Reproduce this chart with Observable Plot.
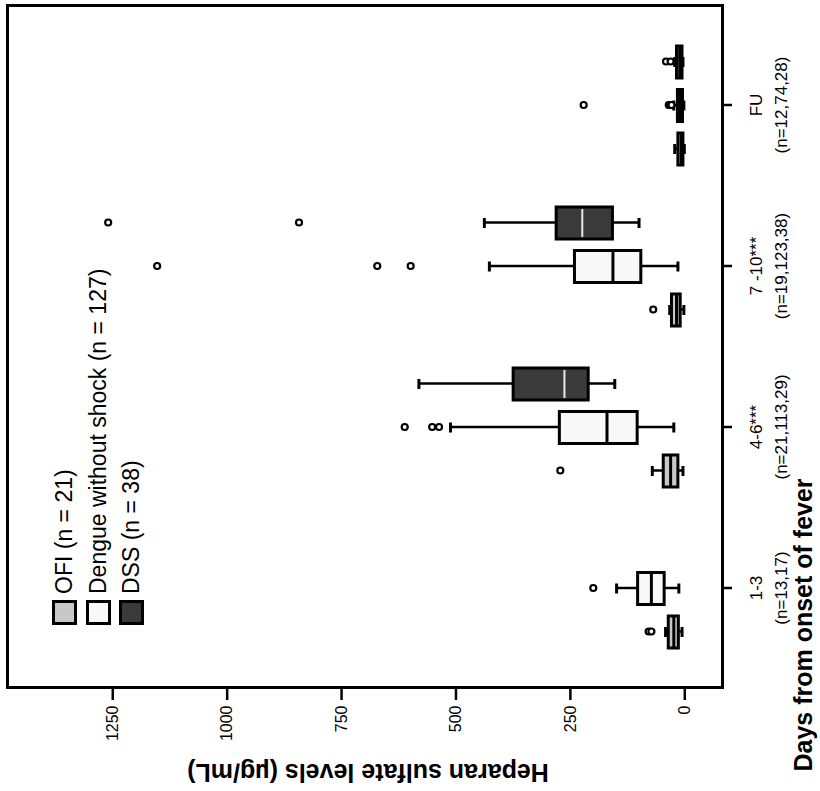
<!DOCTYPE html>
<html>
<head>
<meta charset="utf-8">
<script src="https://cdn.jsdelivr.net/npm/d3@7"></script>
<script src="https://cdn.jsdelivr.net/npm/@observablehq/plot@0.6"></script>
<style>
  html, body { margin: 0; padding: 0; background: #fff; }
  #wrap { position: relative; width: 820px; height: 791px; overflow: hidden; background: #fff; }
  #fig { position: absolute; left: 0; top: 0; width: 791px; height: 820px;
         transform-origin: 0 0; transform: translate(0px, 791px) rotate(-90deg);
         font-family: "Liberation Sans", Arial, sans-serif; color: #000; }
  #fig svg { position: absolute; left: 0; top: 0; }
  #legend { position: absolute; left: 166px; top: 48px; }
  .row { display: flex; align-items: center; height: 33.5px; }
  .sw { width: 25px; height: 25px; box-sizing: border-box; border: 3px solid #000; }
  .lab { margin-left: 6px; font-size: 23px; white-space: nowrap; }
  .title { position: absolute; font-weight: bold; white-space: nowrap; transform: translate(-50%, -50%); }
</style>
</head>
<body>
<div id="wrap"><div id="fig"></div></div>
<script>
// ---- data ----
const days = ["1-3", "4-6", "7-10", "FU"];
const dayTickLabels = ["1-3\n(n=13,17)", "4-6***\n(n=21,113,29)", "7 -10***\n(n=19,123,38)", "FU\n(n=12,74,28)"];
const groups = ["OFI", "Dengue", "DSS"];
const groupLabels = ["OFI (n = 21)", "Dengue without shock (n = 127)", "DSS (n = 38)"];
const yTicks = [0, 250, 500, 750, 1000, 1250];

const boxDay   = ["1-3", "1-3", "4-6", "4-6", "4-6", "7-10", "7-10", "7-10", "FU", "FU", "FU"];
const boxGroup = ["OFI", "Dengue", "OFI", "Dengue", "DSS", "OFI", "Dengue", "DSS", "OFI", "Dengue", "DSS"];
const whiskerLow  = [6, 13, 4, 24, 153, 2, 15, 100, 1, 2, 4];
const quartile1   = [13, 44, 14, 103, 210, 9, 95, 157, 3, 4, 5];
const medianValue = [24, 73, 31, 170, 263, 18, 157, 224, 8, 10, 10];
const quartile3   = [35, 102, 46, 273, 374, 28, 240, 280, 14, 15, 17];
const whiskerHigh = [42, 149, 71, 512, 581, 33, 427, 438, 22, 24, 22];

const outlierDay   = ["1-3", "1-3", "1-3", "4-6", "4-6", "4-6", "4-6", "7-10", "7-10", "7-10", "7-10", "7-10", "7-10", "FU", "FU", "FU", "FU", "FU", "FU", "FU"];
const outlierGroup = ["OFI", "OFI", "Dengue", "OFI", "Dengue", "Dengue", "Dengue", "OFI", "Dengue", "Dengue", "Dengue", "DSS", "DSS", "Dengue", "Dengue", "Dengue", "Dengue", "Dengue", "DSS", "DSS"];
const outlierValue = [79, 73, 200, 272, 612, 552, 537, 69, 599, 672, 1153, 843, 1260, 221, 35, 33, 31, 29, 41, 31];

// ---- layout / styles ----
const groupFill = ["#c8c8c8", "#f8f8f8", "#3a3a3a"];
const W = 791, H = 820, mL = 103, mR = 6, mT = 7, mB = 98;
const fxPad = 0.236;
const fxStep = (W - mL - mR) / (days.length - fxPad + 2 * fxPad);
const outerGap = fxPad * fxStep; // distance between the frame edge and the first/last facet

const boxes = boxDay.map((d, i) => ({day: d, group: boxGroup[i], lo: whiskerLow[i], q1: quartile1[i], med: medianValue[i], q3: quartile3[i], hi: whiskerHigh[i]}));
const outliers = outlierDay.map((d, i) => ({day: d, group: outlierGroup[i], value: outlierValue[i]}));
const lightMedian = d => d.group === "DSS" && d.day !== "FU";

const chart = Plot.plot({
  width: W,
  height: H,
  marginLeft: mL,
  marginRight: mR,
  marginTop: mT,
  marginBottom: mB,
  style: {fontFamily: "'Liberation Sans', Arial, sans-serif", background: "white", color: "black", overflow: "visible"},
  fx: {domain: days, paddingInner: fxPad, paddingOuter: fxPad, round: false, axis: null},
  x: {domain: groups, paddingInner: 0.264, paddingOuter: 0.046, round: false, axis: null},
  y: {domain: [-82.4, 1480], axis: null},
  color: {domain: groups, range: groupFill},
  marks: [
    Plot.axisY({ticks: yTicks, dx: -outerGap, tickSize: 12, tickPadding: 6, fontSize: 16, strokeWidth: 2.5, tickFormat: d => String(d), label: null}),
    Plot.axisFx({anchor: "bottom", tickSize: 10, tickPadding: 12, fontSize: 17, lineHeight: 1.45, strokeWidth: 2.5, tickFormat: d => dayTickLabels[days.indexOf(d)], label: null}),
    Plot.ruleX(boxes, {fx: "day", x: "group", y1: "lo", y2: "hi", stroke: "black", strokeWidth: 2.5}),
    Plot.barY(boxes, {fx: "day", x: "group", y1: "q1", y2: "q3", fill: "group", stroke: "black", strokeWidth: 3}),
    Plot.tickY(boxes, {filter: d => !lightMedian(d), fx: "day", x: "group", y: "med", stroke: "black", strokeWidth: 3}),
    Plot.tickY(boxes, {filter: lightMedian, fx: "day", x: "group", y: "med", stroke: "#e8e8e8", strokeWidth: 2, insetLeft: 2, insetRight: 2}),
    Plot.tickY(boxes, {fx: "day", x: "group", y: "lo", stroke: "black", strokeWidth: 3, insetLeft: 11, insetRight: 11}),
    Plot.tickY(boxes, {fx: "day", x: "group", y: "hi", stroke: "black", strokeWidth: 3, insetLeft: 11, insetRight: 11}),
    Plot.dot(outliers, {fx: "day", x: "group", y: "value", r: 3, stroke: "black", strokeWidth: 2.2, fill: "white"}),
    Plot.frame({facet: "super", stroke: "black", strokeWidth: 3, insetLeft: -outerGap, insetRight: -outerGap})
  ]
});

const fig = document.getElementById("fig");
fig.appendChild(chart);

// legend (inside the rotated figure)
const legend = document.createElement("div");
legend.id = "legend";
groups.forEach((g, i) => {
  const row = document.createElement("div");
  row.className = "row";
  const sw = document.createElement("div");
  sw.className = "sw";
  sw.style.background = groupFill[i];
  const lab = document.createElement("span");
  lab.className = "lab";
  lab.textContent = groupLabels[i];
  row.appendChild(sw); row.appendChild(lab);
  legend.appendChild(row);
});
fig.appendChild(legend);

// axis titles
const yTitle = document.createElement("div");
yTitle.className = "title";
yTitle.textContent = "Heparan sulfate levels (µg/mL)";
yTitle.style.cssText = "left:19px;top:368px;font-size:25px;transform:translate(-50%,-50%) rotate(-90deg);";
fig.appendChild(yTitle);

const xTitle = document.createElement("div");
xTitle.className = "title";
xTitle.textContent = "Days from onset of fever";
xTitle.style.cssText = "left:166px;top:803px;font-size:25px;";
fig.appendChild(xTitle);
</script>
</body>
</html>
